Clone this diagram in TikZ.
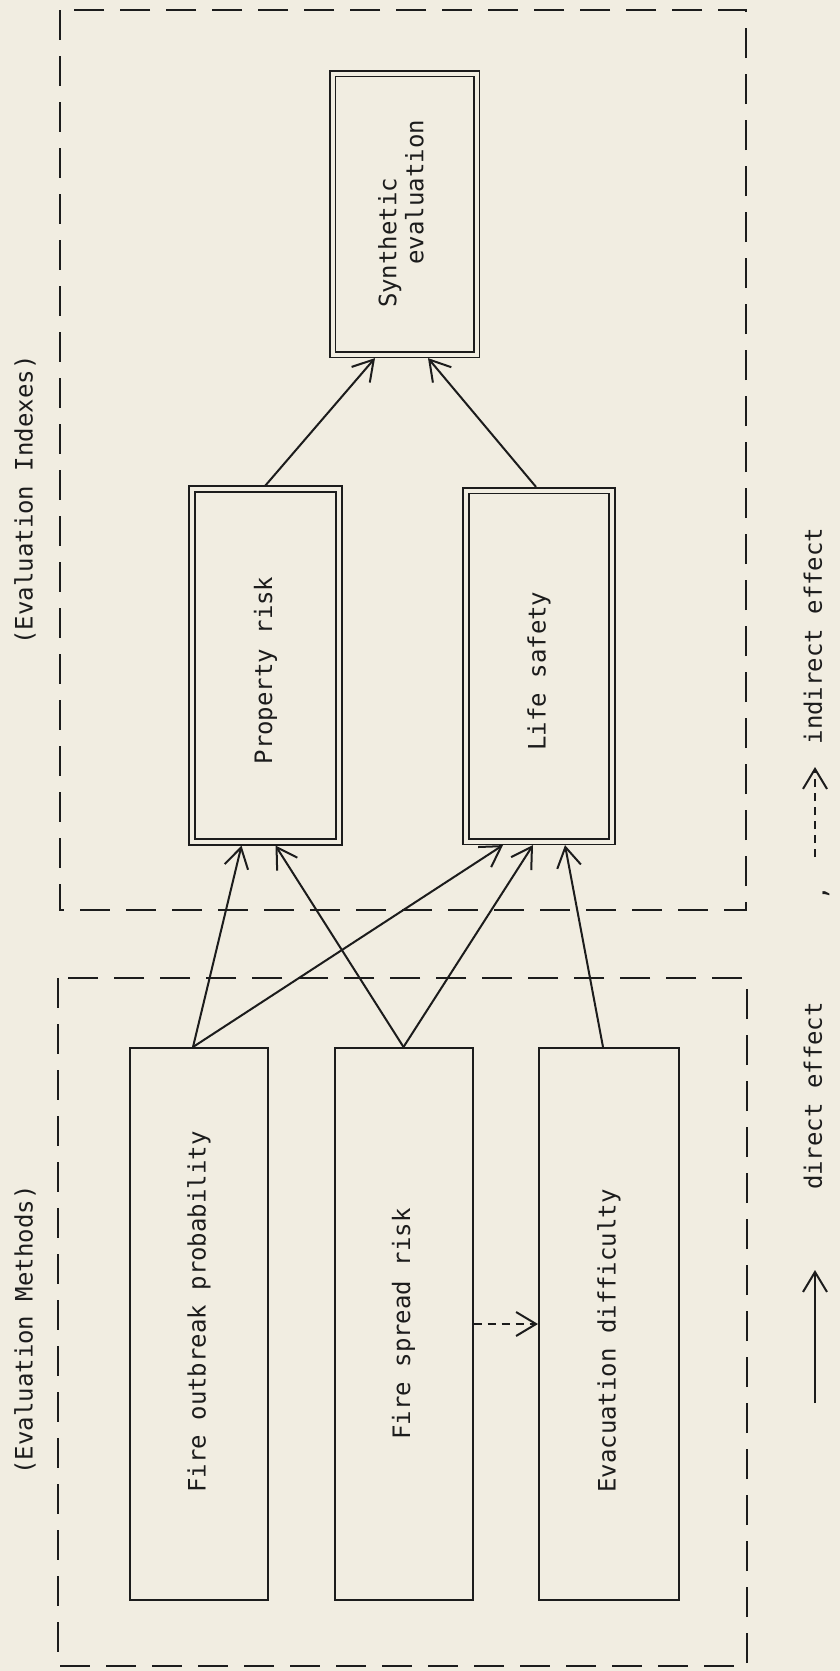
\documentclass[tikz,border=0pt]{standalone}
\usepackage{fontspec}
\setmonofont{DejaVu Sans Mono}
\usetikzlibrary{arrows.meta}
\definecolor{paper}{HTML}{F1EDE1}
\definecolor{ink}{HTML}{1C1C1C}

\begin{document}
\begin{tikzpicture}[>={Straight Barb[length=10pt,width=12pt]}, x=0.5pt, y=-0.5pt,
        every node/.style={font=\ttfamily\fontsize{12}{13.5}\selectfont, text=ink},
        methodbox/.style={draw=ink, line width=1pt, minimum width=69pt,
                minimum height=276pt, inner sep=0pt},
        indexbox/.style={draw=ink, line width=0.8pt, double=paper,
                double distance=2pt, outer sep=1.8pt, inner sep=0pt},
        groupframe/.style={draw=ink, line width=1pt, dash pattern=on 15pt off 8pt},
        effect/.style={->, draw=ink, line width=1pt},
        weakeffect/.style={effect, dash pattern=on 4pt off 3pt}]
                \fill[paper] (0, 0) rectangle (840, 1671);
                \useasboundingbox (0, 0) rectangle (840, 1671);

                % evaluation indexes
                \draw[groupframe] (60, 10) rectangle (746, 910);
                \node (indexlabel) at (25, 500)
                    {\rotatebox{90}{(Evaluation Indexes)}};

                \node[indexbox, minimum width=72pt, minimum height=140.5pt]
                    (synthetic) at (404.5, 214)
                    {\rotatebox{90}{\begin{tabular}{@{}l@{}}
                        Synthetic\\
                        \phantom{Syn}evaluation
                    \end{tabular}}};
                \node[indexbox, minimum width=73.5pt, minimum height=176.5pt]
                    (property) at (265.5, 665.5)
                    {\rotatebox{90}{Property risk\hspace*{5pt}}};
                \node[indexbox, minimum width=73pt, minimum height=175.5pt]
                    (life) at (539, 666)
                    {\rotatebox{90}{Life safety\hspace*{5pt}}};

                % evaluation methods
                \draw[groupframe] (58, 978) rectangle (747, 1666);
                \node (methodlabel) at (25, 1330)
                    {\rotatebox{90}{(Evaluation Methods)}};

                \node[methodbox] (outbreak) at (199, 1324)
                    {\rotatebox{90}{\hspace*{12pt}Fire outbreak probability}};
                \node[methodbox] (spread) at (403.5, 1324)
                    {\rotatebox{90}{Fire spread risk}};
                \node[methodbox, minimum width=70pt] (evacuation) at (609, 1324)
                    {\rotatebox{90}{Evacuation difficulty\hspace*{17pt}}};

                \draw[effect] ([xshift=-3pt]outbreak.north) -- ([xshift=-12pt]property.south);
                \draw[effect] ([xshift=-3pt]outbreak.north) -- ([xshift=-18pt]life.south);
                \draw[effect] (spread.north) -- ([xshift=5pt]property.south);
                \draw[effect] (spread.north) -- ([xshift=-3pt]life.south);
                \draw[effect] ([xshift=-3pt]evacuation.north) -- ([xshift=13pt]life.south);
                \draw[weakeffect] (spread.east) -- (evacuation.west);

                \draw[effect] (property.north) -- ([xshift=-14.75pt]synthetic.south);
                \draw[effect] ([xshift=-1.5pt]life.north) -- ([xshift=11.75pt]synthetic.south);

                % legend
                \coordinate (directtail) at (815, 1403);
                \coordinate (directhead) at (815, 1270);
                \draw[effect] (directtail) -- (directhead);
                \node (directlabel) at (813, 1096) {\rotatebox{90}{direct effect}};
                \node (legendcomma) at (826, 893) {\rotatebox{90}{,}};
                \coordinate (indirecttail) at (815, 857);
                \coordinate (indirecthead) at (815, 767);
                \draw[weakeffect] (indirecttail) -- (indirecthead);
                \node (indirectlabel) at (813, 636) {\rotatebox{90}{indirect effect}};
            \end{tikzpicture}
\end{document}
